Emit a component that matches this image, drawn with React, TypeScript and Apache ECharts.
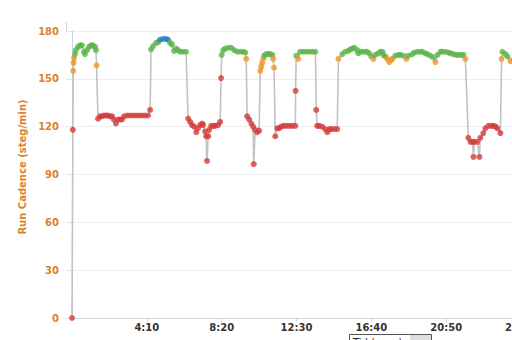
import React, { useEffect, useRef } from "react";
import * as echarts from "echarts";

// Elapsed time (seconds) of each sample
const timeSec = [
  0, 3, 4, 5, 7, 10, 13, 20, 27, 33,
  40, 43, 50, 57, 64, 70, 77, 80, 82, 87,
  94, 100, 107, 114, 120, 127, 134, 140, 147, 154,
  161, 167, 174, 184, 194, 204, 214, 224, 234, 244,
  254, 261, 264, 271, 281, 288, 294, 304, 314, 321,
  328, 334, 341, 348, 354, 361, 371, 381, 388, 395,
  401, 408, 415, 421, 428, 435, 438, 445, 448, 451,
  455, 458, 465, 472, 478, 488, 495, 498, 500, 505,
  512, 522, 532, 542, 552, 562, 572, 579, 582, 585,
  592, 599, 605, 607, 612, 619, 625, 629, 632, 635,
  639, 642, 649, 655, 662, 669, 672, 675, 679, 686,
  692, 699, 706, 716, 726, 736, 746, 747, 749, 756,
  762, 772, 782, 793, 803, 813, 816, 819, 826, 836,
  846, 853, 860, 866, 876, 886, 890, 903, 913, 923,
  930, 936, 943, 953, 956, 963, 970, 980, 986, 993,
  1000, 1007, 1013, 1023, 1030, 1037, 1040, 1047, 1053, 1060,
  1067, 1070, 1080, 1090, 1097, 1107, 1117, 1124, 1137, 1144,
  1154, 1164, 1170, 1180, 1187, 1197, 1207, 1214, 1221, 1231,
  1237, 1247, 1257, 1264, 1274, 1284, 1291, 1301, 1308, 1314,
  1324, 1331, 1338, 1341, 1344, 1354, 1361, 1364, 1374, 1381,
  1391, 1401, 1408, 1415, 1421, 1431, 1435, 1438, 1448, 1455,
  1465, 1475, 1485, 1498, 1512, 1525,
];

// Run cadence (steg/min) of each sample
const cadence = [
  0, 118, 155, 160, 163, 165.5, 168, 170, 171, 171,
  167, 165.5, 168, 170, 171, 171, 170, 168, 158.5, 125,
  126.5, 126.5, 127, 127, 127, 126.5, 126.5, 124.5, 122, 124.5,
  124.5, 124.5, 126.5, 127, 127, 127, 127, 127, 127, 127,
  127, 130.5, 168.5, 170.5, 172.5, 173, 174.5, 175, 175, 174.5,
  172.5, 171.5, 167.5, 169, 168, 167, 167, 167, 125, 123,
  121, 120, 116.5, 119, 121, 122, 121, 117, 114, 98.5,
  114, 118, 120.5, 120.5, 120.5, 121, 123, 150.5, 165, 168,
  169, 169.5, 169.5, 168, 167, 167, 167, 166.5, 162.5, 126.5,
  124.5, 122, 120, 96.5, 118, 116.5, 117.5, 155, 157.5, 160,
  162.5, 164.5, 165.5, 165.5, 165.5, 165, 162.5, 157, 114, 119,
  119, 120, 120.5, 120.5, 120.5, 120.5, 120.5, 142.5, 164.5, 162.5,
  167, 167, 167, 167, 167, 167, 130.5, 120.5, 120.5, 120,
  118.5, 116.5, 118.5, 118.5, 118.5, 118.5, 162.5, 165.5, 167, 167.5,
  168.5, 169, 169.5, 168, 166, 167, 167, 167, 167, 166,
  164, 162.5, 165, 166, 167, 167, 165, 164, 162.5, 160.5,
  162, 162.5, 164.5, 165, 165, 164.5, 162.5, 164.5, 165.5, 166.5,
  167, 167, 167, 166, 165.5, 164.5, 163.5, 160.5, 165, 167,
  167, 167, 166.5, 166, 165.5, 165, 165, 165, 165, 162.5,
  113, 110.5, 110.5, 101, 110.5, 110.5, 101, 113, 116, 119,
  120.5, 120.5, 120.5, 120, 119, 116, 162.5, 167, 165.5, 164,
  161, 162, 163, 164, 165, 164,
];

const xTickValues = [250, 500, 750, 1000, 1250, 1500];
const yAxisTitle = "Run Cadence (steg/min)";
const selectLabel = "Tid (m:ss)";

const ORANGE_TEXT = "#d9832a";

function zoneColor(v: number): string {
  if (v < 153) return "#d43c3c";
  if (v < 163.5) return "#f0962b";
  if (v < 173.8) return "#5db54a";
  return "#2b7fc3";
}

function fmtTime(v: number): string {
  const m = Math.floor(v / 60);
  const s = Math.round(v - m * 60);
  return `${m}:${String(s).padStart(2, "0")}`;
}

export default function App() {
  const ref = useRef<HTMLDivElement>(null);

  useEffect(() => {
    if (!ref.current) return;
    const chart = echarts.init(ref.current, null, { renderer: "svg" });
    const font = "DejaVu Sans";
    const pairs = timeSec.map((t, i) => [t, cadence[i]]);
    chart.setOption({
      animation: false,
      backgroundColor: "#ffffff",
      grid: { left: 66, right: 24, top: 31, bottom: 22 },
      xAxis: {
        type: "value",
        min: -20,
        max: 1550,
        axisLine: { show: true, lineStyle: { color: "#cfd8e2", width: 1 } },
        axisTick: {
          show: true,
          length: 4,
          customValues: xTickValues,
          lineStyle: { color: "#cfd8e2" },
        },
        axisLabel: {
          customValues: xTickValues,
          formatter: (v: number) => fmtTime(v),
          color: "#333333",
          fontFamily: font,
          fontWeight: "bold",
          fontSize: 10,
          margin: 4,
        },
        splitLine: { show: false },
      },
      yAxis: {
        type: "value",
        min: 0,
        max: 180,
        interval: 30,
        axisLine: { show: true, lineStyle: { color: "#c9d4df", width: 1 } },
        axisTick: { show: true, length: 5, lineStyle: { color: "#dde3ea" } },
        axisLabel: {
          color: ORANGE_TEXT,
          fontFamily: font,
          fontWeight: "bold",
          fontSize: 10,
          margin: 7,
        },
        splitLine: { show: true, lineStyle: { color: "#eceef1", width: 1 } },
      },
      series: [
        {
          type: "line",
          data: pairs,
          showSymbol: false,
          lineStyle: { color: "#c2c2c2", width: 1.6 },
          z: 1,
          silent: true,
        },
        {
          type: "scatter",
          data: pairs.map((p) => ({
            value: p,
            itemStyle: { color: zoneColor(p[1]) },
          })),
          symbolSize: 6,
          z: 2,
          silent: true,
        },
      ],
      graphic: [
        {
          type: "line",
          shape: { x1: 66.5, y1: 22, x2: 66.5, y2: 31 },
          style: { stroke: "#c9d4df", lineWidth: 1 },
        },
        {
          type: "text",
          x: 22,
          y: 167,
          rotation: Math.PI / 2,
          style: {
            text: yAxisTitle,
            fill: ORANGE_TEXT,
            font: `bold 10px "${font}"`,
            align: "center",
            verticalAlign: "middle",
          },
        },
        {
          type: "rect",
          shape: { x: 349.5, y: 334.5, width: 82, height: 14 },
          style: { fill: "#ffffff", stroke: "#555555", lineWidth: 1 },
        },
        {
          type: "rect",
          shape: { x: 410, y: 335, width: 21, height: 13 },
          style: { fill: "#dedede" },
        },
        {
          type: "text",
          x: 353,
          y: 337,
          style: {
            text: selectLabel,
            fill: "#222222",
            font: `10px "${font}"`,
            verticalAlign: "top",
          },
        },
      ],
    });
    return () => chart.dispose();
  }, []);

  return (
    <div
      style={{
        position: "fixed",
        left: 0,
        top: 0,
        width: 512,
        height: 340,
        overflow: "hidden",
        background: "#ffffff",
      }}
    >
      <div ref={ref} style={{ width: 560, height: 340 }} />
    </div>
  );
}
